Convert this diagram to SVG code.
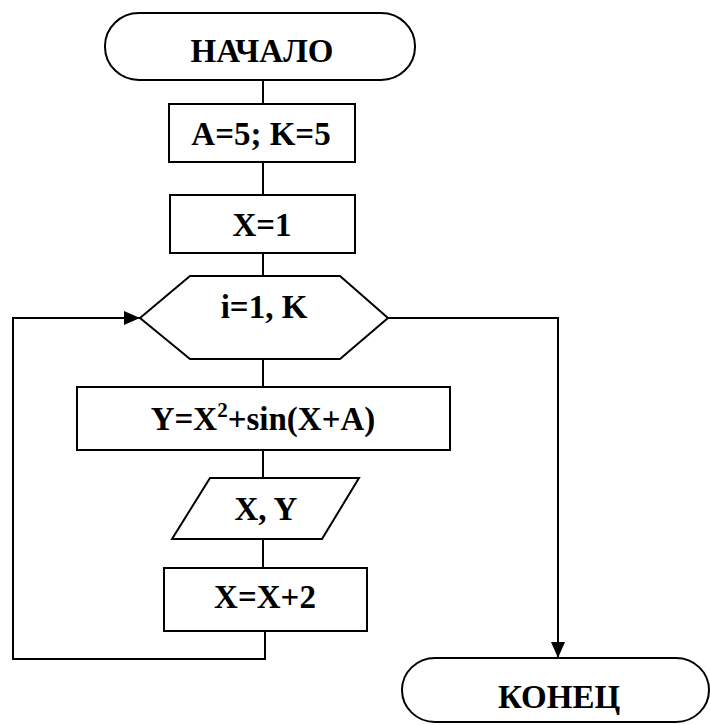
<svg xmlns="http://www.w3.org/2000/svg" width="710" height="725" viewBox="0 0 710 725">
<style>
.s{fill:#fff;stroke:#000;stroke-width:2}
.c{fill:none;stroke:#000;stroke-width:2}
.t{font-family:"Liberation Serif","Times New Roman",serif;font-weight:bold;font-size:33px;fill:#000;text-anchor:middle}
</style>
<defs>
<marker id="ah" viewBox="0 0 16 14" refX="16" refY="7" markerWidth="16" markerHeight="14" markerUnits="userSpaceOnUse" orient="auto"><path d="M0,0 L16,7 L0,14 Z" fill="#000"/></marker>
</defs>
<g id="connectors">
<line class="c" x1="263" y1="80" x2="263" y2="104"/>
<line class="c" x1="263" y1="162" x2="263" y2="195"/>
<line class="c" x1="263" y1="253" x2="263" y2="276"/>
<line class="c" x1="263" y1="359" x2="263" y2="387"/>
<line class="c" x1="263" y1="450" x2="263" y2="478"/>
<line class="c" x1="263" y1="539" x2="263" y2="568"/>
<polyline class="c" points="265,631 265,659 13,659 13,318 140,318" marker-end="url(#ah)"/>
<polyline class="c" points="388,318 558,318 558,658" marker-end="url(#ah)"/>
</g>
<g id="start">
<rect class="s" x="105" y="13" width="310" height="67" rx="34" ry="33"/>
<text class="t" x="262" y="62">НАЧАЛО</text>
</g>
<g id="init">
<rect class="s" x="169" y="104" width="186" height="58"/>
<text class="t" x="261" y="145">A=5; K=5</text>
</g>
<g id="x1">
<rect class="s" x="170" y="195" width="185" height="58"/>
<text class="t" x="262" y="236">X=1</text>
</g>
<g id="loop">
<polygon class="s" points="140,318 190,276 340,276 388,318 340,359 190,359"/>
<text class="t" x="264" y="318">i=1, K</text>
</g>
<g id="calc">
<rect class="s" x="77" y="387" width="373" height="63"/>
<text class="t" x="263" y="430">Y=X<tspan font-size="21" dy="-13">2</tspan><tspan dy="13">+sin(X+A)</tspan></text>
</g>
<g id="output">
<polygon class="s" points="210,478 359,478 322,539 172,539"/>
<text class="t" x="266" y="520">X, Y</text>
</g>
<g id="inc">
<rect class="s" x="164" y="568" width="203" height="63"/>
<text class="t" x="265" y="608">X=X+2</text>
</g>
<g id="end">
<rect class="s" x="402" y="658" width="307" height="64" rx="33" ry="32"/>
<text class="t" x="559" y="708">КОНЕЦ</text>
</g>
</svg>
